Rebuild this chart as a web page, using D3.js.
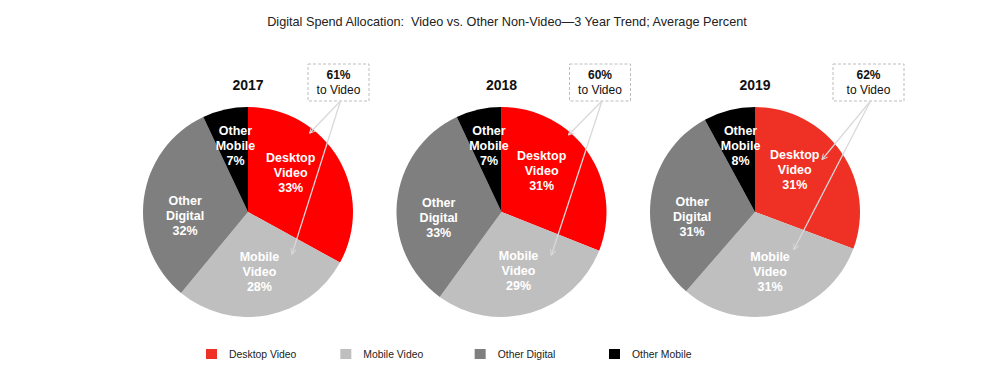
<!DOCTYPE html>
<html>
<head>
<meta charset="utf-8">
<script src="https://cdn.jsdelivr.net/npm/d3@7"></script>
<style>
  body { margin: 0; background: #fff; }
  text { font-family: "Liberation Sans", Arial, sans-serif; }
</style>
</head>
<body>
<div id="wrapper"></div>
<script>
// chart data
const years = ["2017", "2018", "2019"]
const categories = ["Desktop Video", "Mobile Video", "Other Digital", "Other Mobile"]
const desktopVideo = [33, 31, 31]
const mobileVideo = [28, 29, 31]
const otherDigital = [32, 33, 31]
const otherMobile = [7, 7, 8]
const toVideo = [61, 60, 62]

const titleText = "Digital Spend Allocation:  Video vs. Other Non-Video\u20143 Year Trend; Average Percent"

// styles / layout
const legendColors = ["#ee3124", "#bfbfbf", "#7f7f7f", "#000000"]
const desktopFill = ["#ff0000", "#ff0000", "#ee3124"]
const labelRadius = [58, 61, 63, 68]
const labelNudge = [-12, 0, -10, 2]   // degrees
const calloutLeft = [60, 68, 78]       // box left, relative to pie center
const calloutWidth = [61, 61, 71]
// arrow ends: [angle deg, radius] for desktop and mobile slices
const arrowDesk = [[38, 100], [41, 102], [52, 85]]
const arrowMob = [[134, 61], [131, 66], [134, 54]]

const width = 1002, height = 389
const radius = 105, cy = 212

const svg = d3.select("#wrapper")
    .append("svg")
        .attr("width", width)
        .attr("height", height)

svg.append("defs").append("marker")
    .attr("id", "open")
    .attr("viewBox", "0 0 10 10")
    .attr("refX", 9).attr("refY", 5)
    .attr("markerWidth", 7).attr("markerHeight", 7)
    .attr("markerUnits", "userSpaceOnUse")
    .attr("orient", "auto")
  .append("path")
    .attr("d", "M1,1 L9,5 L1,9")
    .attr("fill", "none")
    .attr("stroke", "#d9d9d9")
    .attr("stroke-width", 1.3)

svg.append("text")
    .attr("x", 507).attr("y", 26)
    .attr("text-anchor", "middle")
    .attr("font-size", 12.7)
    .attr("fill", "#222")
    .style("white-space", "pre")
    .text(titleText)

const xScale = d3.scalePoint().domain(years).range([248, 755])

const pie = d3.pie().sort(null).value(d => d.value)
const arc = d3.arc().innerRadius(0).outerRadius(radius)

const rad = deg => deg * Math.PI / 180
const polar = (a, r) => [r * Math.sin(rad(a)), -r * Math.cos(rad(a))]

years.forEach((year, i) => {
    const values = [desktopVideo[i], mobileVideo[i], otherDigital[i], otherMobile[i]]
    const slices = pie(values.map((v, j) => ({ cat: categories[j], value: v, j })))
    const cx = xScale(year)
    const g = svg.append("g").attr("transform", `translate(${cx},${cy})`)

    g.selectAll(".slice")
        .data(slices)
        .join("path")
        .attr("d", arc)
        .attr("fill", d => d.data.j === 0 ? desktopFill[i] : legendColors[d.data.j])

    // labels
    const lab = g.selectAll(".lab")
        .data(slices)
        .join("text")
        .attr("text-anchor", "middle")
        .attr("font-size", 12.5)
        .attr("font-weight", "bold")
        .attr("fill", "#fff")
        .attr("transform", d => {
            const mid = (d.startAngle + d.endAngle) / 2 * 180 / Math.PI + labelNudge[d.data.j]
            const p = polar(mid, labelRadius[d.data.j])
            return `translate(${p[0]},${p[1]})`
        })
    lab.each(function(d) {
        const lines = d.data.cat.split(" ").concat([d.data.value + "%"])
        d3.select(this).selectAll("tspan")
            .data(lines)
            .join("tspan")
            .attr("x", 0)
            .attr("y", (l, k) => (k - 1) * 15 + 4.5)
            .text(l => l)
    })

    // year title
    g.append("text")
        .attr("y", -radius - 17)
        .attr("text-anchor", "middle")
        .attr("font-size", 14)
        .attr("font-weight", "bold")
        .attr("fill", "#111")
        .text(year)

    // callout box
    const bx = calloutLeft[i], bw = calloutWidth[i]
    const by = -radius - 43, bh = 37
    g.append("rect")
        .attr("x", bx).attr("y", by)
        .attr("width", bw).attr("height", bh)
        .attr("fill", "#fff")
        .attr("stroke", "#bdbdbd")
        .attr("stroke-width", 1)
        .attr("stroke-dasharray", "3,2")
    g.append("text")
        .attr("x", bx + bw / 2).attr("y", by + 15)
        .attr("text-anchor", "middle")
        .attr("font-size", 12)
        .attr("font-weight", "bold")
        .attr("fill", "#111")
        .text(toVideo[i] + "%")
    g.append("text")
        .attr("x", bx + bw / 2).attr("y", by + 30)
        .attr("text-anchor", "middle")
        .attr("font-size", 12)
        .attr("fill", "#111")
        .text("to Video")

    const ox = bx + bw / 2 + 2, oy = by + bh
    ;[arrowDesk[i], arrowMob[i]].forEach(t => {
        const p = polar(t[0], t[1])
        g.append("line")
            .attr("x1", ox).attr("y1", oy)
            .attr("x2", p[0]).attr("y2", p[1])
            .attr("stroke", "#d9d9d9")
            .attr("stroke-width", 1.3)
            .attr("marker-end", "url(#open)")
    })
})

// legend
const legendX = d3.scalePoint().domain(categories).range([206, 609])
const legend = svg.selectAll(".legend")
    .data(categories)
    .join("g")
    .attr("transform", d => `translate(${legendX(d)},349)`)
legend.append("rect")
    .attr("width", 11).attr("height", 10)
    .attr("fill", (d, j) => legendColors[j])
legend.append("text")
    .attr("x", 23).attr("y", 9)
    .attr("font-size", 10.4)
    .attr("fill", "#222")
    .text(d => d)
</script>
</body>
</html>
